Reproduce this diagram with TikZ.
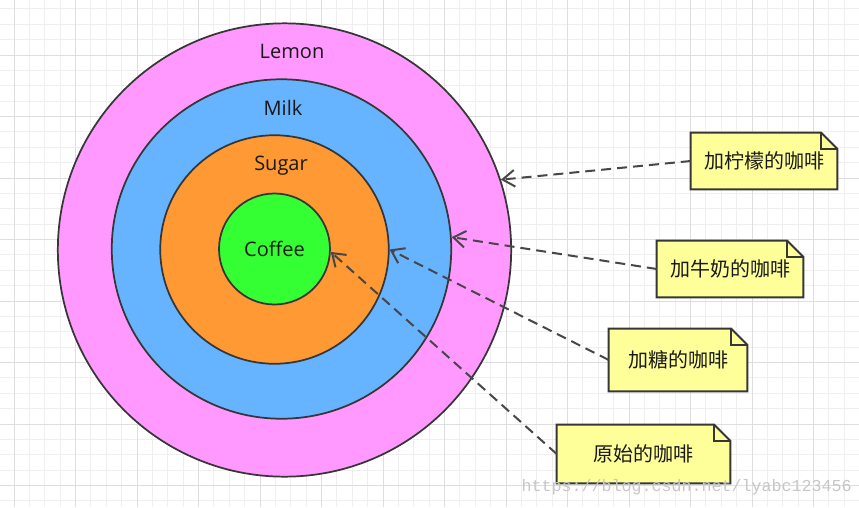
\documentclass[tikz,border=0pt]{standalone}
\usepackage{fontspec}
\setmainfont{Open Sans}
\newfontfamily\cjk{Noto Sans CJK SC}
\newfontfamily\wmfont{Liberation Mono}
\usetikzlibrary{arrows.meta,backgrounds}
\definecolor{lemoncol}{HTML}{FF99FF}
\definecolor{milkcol}{HTML}{66B3FF}
\definecolor{sugarcol}{HTML}{FF9933}
\definecolor{coffeecol}{HTML}{33FF33}
\definecolor{notecol}{HTML}{FFFF99}
\definecolor{edgecol}{HTML}{363636}
\definecolor{gridminor}{HTML}{EFEFEF}
\definecolor{gridmajor}{HTML}{DEDEDE}

\begin{document}
\begin{tikzpicture}[x=0.75pt,y=-0.75pt]
\tikzstyle{every node}=[font=\fontsize{15}{18}\selectfont, text=black!90]
\tikzstyle{ring}=[circle, draw=edgecol, line width=1.3pt, inner sep=0pt]
\tikzstyle{note}=[inner sep=0pt, font=\cjk\fontsize{15}{18}\selectfont]
\tikzstyle{notebox}=[draw=edgecol, line width=1.5pt, line join=miter]
\tikzstyle{pointer}=[draw=black!72, line width=1.5pt, dash pattern=on 7.5pt off 4.5pt, -{Straight Barb[length=9pt,width=12.5pt]}]

\useasboundingbox (0,0) rectangle (859,507);
\begin{scope}[on background layer]
\fill[white] (0,0) rectangle (859,507);
% grid
\foreach \x in {-1.375,14,...,860}
  \draw[gridminor, line width=0.75pt] (\x,0) -- (\x,507);
\foreach \y in {8.875,24.25,...,507}
  \draw[gridminor, line width=0.75pt] (0,\y) -- (859,\y);
\foreach \x in {14,75.5,...,860}
  \draw[gridmajor, line width=0.75pt] (\x,0) -- (\x,507);
\foreach \y in {55,116.5,...,507}
  \draw[gridmajor, line width=0.75pt] (0,\y) -- (859,\y);
\end{scope}

\node[ring, fill=lemoncol, minimum size=340pt] (lemon) at (284.5,250) {};
\node[ring, fill=milkcol, minimum size=254.6pt] (milk) at (281.5,249) {};
\node[ring, fill=sugarcol, minimum size=171.4pt] (sugar) at (274.5,249.5) {};
\node[ring, fill=coffeecol, minimum size=83.25pt] (coffee) at (274.5,249) {Coffee};

\node (lemonlabel) at (292,51.5) {Lemon};
\node (milklabel) at (283,107.5) {Milk};
\node (sugarlabel) at (281,166) {Sugar};

\node[note, minimum width=109.5pt, minimum height=42pt] (lemonnote) at (764,161) {加柠檬的咖啡};
\node[note, minimum width=109.5pt, minimum height=42pt] (milknote) at (730,269) {加牛奶的咖啡};
\node[note, minimum width=103.5pt, minimum height=46.5pt] (sugarnote) at (678,360) {加糖的咖啡};
\node[note, minimum width=129.75pt, minimum height=43.5pt] (coffeenote) at (643.5,454) {原始的咖啡};

\begin{scope}[on background layer]
\foreach \n in {lemonnote,milknote,sugarnote,coffeenote}{
  \draw[notebox, fill=notecol] (\n.south west) -- (\n.north west) -- ([xshift=-12pt]\n.north east)
    -- ([yshift=-12pt]\n.north east) -- (\n.south east) -- cycle;
  \draw[notebox] ([xshift=-12pt]\n.north east) |- ([yshift=-12pt]\n.north east);
}
\end{scope}

\draw[pointer] (lemonnote.west) -- (lemon.18);
\draw[pointer] (milknote.west) -- (milk.4);
\draw[pointer] (sugarnote.west) -- (sugar.0);
\draw[pointer] (coffeenote.west) -- (coffee.-3);

\node[font=\wmfont\fontsize{12.5}{14}\selectfont, text=black!22, anchor=west] (watermark) at (517,487) {https://blog.csdn.net/lyabc123456};
\end{tikzpicture}
\end{document}
